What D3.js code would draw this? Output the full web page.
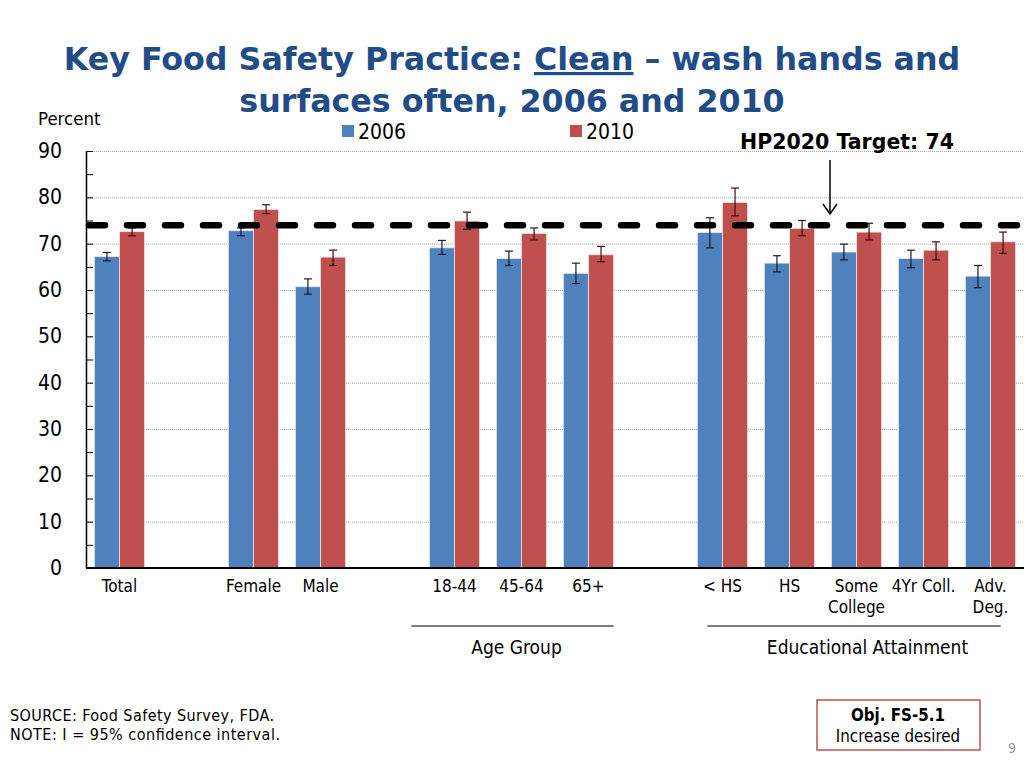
<!DOCTYPE html>
<html><head><meta charset="utf-8">
<script src="https://cdn.jsdelivr.net/npm/d3@7"></script>
<style>body{margin:0;background:#fff}svg{display:block}</style>
</head><body>
<svg id="c" width="1024" height="768"></svg>
<script>
const slots = ["Total","_b1","Female","Male","_b2","18-44","45-64","65+","_b3","< HS","HS","Some College","4Yr Coll.","Adv. Deg."];
const categories = ["Total","Female","Male","18-44","45-64","65+","< HS","HS","Some College","4Yr Coll.","Adv. Deg."];
const labelLines = [["Total"],["Female"],["Male"],["18-44"],["45-64"],["65+"],["< HS"],["HS"],["Some","College"],["4Yr Coll."],["Adv.","Deg."]];
const series = ["2006","2010"];
const values2006 = [67.2,72.8,60.7,69.1,66.8,63.6,72.4,65.8,68.2,66.8,63.0];
const values2010 = [72.6,77.4,67.1,74.9,72.2,67.6,78.9,73.3,72.5,68.6,70.4];
const low2006 = [66.3,71.7,59.1,67.7,65.3,61.4,69.1,63.9,66.5,64.8,60.5];
const high2006 = [68.1,73.4,62.4,70.7,68.4,65.8,75.6,67.4,69.9,68.6,65.3];
const low2010 = [71.7,76.5,65.3,73.1,70.8,66.1,76.0,71.7,70.8,66.5,67.9];
const high2010 = [73.4,78.4,68.6,76.8,73.4,69.4,82.0,75.0,74.4,70.4,72.5];
const yTicks = [0,10,20,30,40,50,60,70,80,90];
const target = 74;
const groups = [{name:"Age Group", from:"18-44", to:"65+"},{name:"Educational Attainment", from:"< HS", to:"Adv. Deg."}];
const colors = {"2006":"#4F81BD","2010":"#C0504D"};

const svg = d3.select("#c");
const x = d3.scaleBand().domain(slots).range([86,1024]).paddingInner(0.25).paddingOuter(0.125);
const xs = d3.scaleBand().domain(series).range([0,x.bandwidth()]);
const y = d3.scaleLinear().domain([0,90]).range([568,151]);
const fCond = "'DejaVu Sans Condensed','DejaVu Sans',sans-serif";
const fWide = "'DejaVu Sans',Verdana,sans-serif";

// Title
const t = svg.append("text").attr("x",512).attr("y",70).attr("text-anchor","middle")
  .attr("font-family",fWide).attr("font-weight","bold")
  .attr("font-size",31.7).attr("fill","#214C88");
t.append("tspan").text("Key Food Safety Practice: ");
t.append("tspan").attr("text-decoration","underline").text("Clean");
t.append("tspan").text(" \u2013 wash hands and");
svg.append("text").attr("x",512).attr("y",112).attr("text-anchor","middle")
  .attr("font-family",fWide).attr("font-weight","bold")
  .attr("font-size",31.7).attr("fill","#214C88").text("surfaces often, 2006 and 2010");

svg.append("text").attr("x",38).attr("y",125).attr("font-family",fCond).attr("font-size",18.5).text("Percent");

// gridlines
svg.append("g").selectAll("line").data(yTicks.filter(d=>d>0)).join("line")
  .attr("x1",86).attr("x2",1024).attr("y1",d=>y(d)+0.5).attr("y2",d=>y(d)+0.5)
  .attr("stroke","#a6a6a6").attr("stroke-dasharray","1,1");

// y axis
const yAxis = d3.axisRight(y).tickValues(d3.range(0,91,5)).tickSize(7).tickFormat("");
const ya = svg.append("g").attr("transform","translate(86,0)").call(yAxis);
ya.select(".domain").attr("stroke","#000").attr("stroke-width",1.5).attr("d","M0.5,151V568");
ya.selectAll(".tick line").attr("stroke","#000");
svg.append("g").selectAll("text").data(yTicks).join("text")
  .attr("x",62).attr("y",d=>y(d)+7).attr("text-anchor","end")
  .attr("font-family",fCond).attr("font-size",21).text(d=>d);

// bars
const rows = categories.map((c,i)=>({c, v:[values2006[i],values2010[i]], lo:[low2006[i],low2010[i]], hi:[high2006[i],high2010[i]]}));
const g = svg.append("g");
rows.forEach(r=>{
  series.forEach((s,k)=>{
    const bx = x(r.c)+xs(s);
    g.append("rect").attr("x",bx).attr("y",y(r.v[k])).attr("width",xs.bandwidth()).attr("height",y(0)-y(r.v[k]))
      .attr("fill",colors[s]).attr("stroke","#e8e8e8").attr("stroke-width",0.8);
  });
});
// target dashed line
svg.append("line").attr("x1",89).attr("x2",1024).attr("y1",y(target)).attr("y2",y(target))
  .attr("stroke","#000").attr("stroke-width",6.5).attr("stroke-linecap","round").attr("stroke-dasharray","16 22");
// error bars
rows.forEach(r=>{
  series.forEach((s,k)=>{
    const cx = x(r.c)+xs(s)+xs.bandwidth()/2;
    const col = k===0 ? "#1a1a2e" : "#3a1010";
    g.append("line").attr("x1",cx).attr("x2",cx).attr("y1",y(r.lo[k])).attr("y2",y(r.hi[k])).attr("stroke",col).attr("stroke-width",1.2);
    [r.lo[k],r.hi[k]].forEach(v=>g.append("line").attr("x1",cx-4).attr("x2",cx+4).attr("y1",y(v)).attr("y2",y(v)).attr("stroke",col).attr("stroke-width",1.2));
  });
});
// x axis baseline
svg.append("line").attr("x1",86).attr("x2",1024).attr("y1",y(0)).attr("y2",y(0)).attr("stroke","#000").attr("stroke-width",2);

// x labels
categories.forEach((c,i)=>{
  const tx = svg.append("text").attr("x",x(c)+x.bandwidth()/2).attr("y",592).attr("text-anchor","middle")
    .attr("font-family",fCond).attr("font-size",17);
  labelLines[i].forEach((l,j)=>tx.append("tspan").attr("x",x(c)+x.bandwidth()/2).attr("dy",j?21:0).text(l));
});
// group lines (layout offsets relative to the band edges)
const groupLayout = [{l:-18, r:0, tx:-5}, {l:10, r:-15, tx:11}];
groups.forEach((gr,i)=>{
  const L = groupLayout[i];
  const x1 = x(gr.from)+L.l, x2 = x(gr.to)+x.bandwidth()+L.r;
  const mid = (x(gr.from)+x(gr.to)+x.bandwidth())/2 + L.tx;
  svg.append("line").attr("x1",x1).attr("x2",x2).attr("y1",626).attr("y2",626).attr("stroke","#000").attr("stroke-width",1.2);
  svg.append("text").attr("x",mid).attr("y",654).attr("text-anchor","middle")
    .attr("font-family",fCond).attr("font-size",19).text(gr.name);
});

// legend
series.forEach((s,k)=>{
  const lx = k===0 ? 342 : 570;
  svg.append("rect").attr("x",lx).attr("y",125).attr("width",12).attr("height",12).attr("fill",colors[s]);
  svg.append("text").attr("x",lx+16).attr("y",139).attr("font-family",fCond).attr("font-size",21).text(s);
});

// target annotation
svg.append("text").attr("x",847).attr("y",149).attr("text-anchor","middle")
  .attr("font-family",fWide).attr("font-weight","bold").attr("font-size",20.5).text("HP2020 Target: " + target);
svg.append("line").attr("x1",830).attr("x2",830).attr("y1",160).attr("y2",213).attr("stroke","#000").attr("stroke-width",1.5);
svg.append("path").attr("d","M823,204L830,214L837,204").attr("fill","none").attr("stroke","#000").attr("stroke-width",1.5);

// footer
svg.append("text").attr("x",10).attr("y",721).attr("font-family",fCond).attr("font-size",16).attr("textLength",264).text("SOURCE: Food Safety Survey, FDA.");
svg.append("text").attr("x",10).attr("y",740).attr("font-family",fCond).attr("font-size",16).attr("textLength",270).text("NOTE: I = 95% confidence interval.");
svg.append("rect").attr("x",817).attr("y",700).attr("width",163).attr("height",50).attr("fill","#fff").attr("stroke","#B85450").attr("stroke-width",1.5);
svg.append("text").attr("x",898).attr("y",721).attr("text-anchor","middle").attr("font-family",fCond).attr("font-weight","bold").attr("font-size",16.8).text("Obj. FS-5.1");
svg.append("text").attr("x",898).attr("y",742).attr("text-anchor","middle").attr("font-family",fCond).attr("font-size",16.8).text("Increase desired");
svg.append("text").attr("x",1008).attr("y",753).attr("font-family",fCond).attr("font-size",14).attr("fill","#999").text("9");
</script>
</body></html>
